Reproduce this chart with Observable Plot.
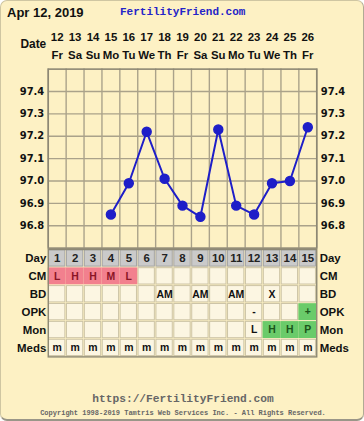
<!DOCTYPE html>
<html><head><meta charset="utf-8">
<script src="https://cdn.jsdelivr.net/npm/d3@7"></script>
<script src="https://cdn.jsdelivr.net/npm/@observablehq/plot@0.6"></script>
<style>
html,body{margin:0;padding:0;background:#fff;}
#wrap{position:relative;width:362px;height:418px;background:#fdf1c4;border:1px solid #cfc6a2;border-bottom:2px solid #9a9688;border-right:1px solid #b0aa94;border-radius:7px;overflow:hidden;font-family:"Liberation Sans",Arial,sans-serif;}
.abs{position:absolute;}
#date{left:6px;top:4px;font:bold 13px "Liberation Sans",Arial,sans-serif;color:#111;}
#site{left:119px;top:5px;font:bold 11px "Liberation Mono","DejaVu Sans Mono",monospace;color:#2424c8;}
#url{left:0;width:364px;text-align:center;top:392px;font:bold 11.2px "Liberation Mono","DejaVu Sans Mono",monospace;color:#666;}
#copy{left:0;width:364px;text-align:center;top:408px;font:bold 7px "Liberation Mono","DejaVu Sans Mono",monospace;color:#666;}
svg{overflow:visible;}
</style></head>
<body>
<div id="wrap">
<div id="date" class="abs">Apr 12, 2019</div>
<div id="site" class="abs">FertilityFriend.com</div>
<div id="chart" class="abs" style="left:0;top:0"></div>
<div id="table" class="abs" style="left:0;top:247px"></div>
<div id="url" class="abs">https://FertilityFriend.com</div>
<div id="copy" class="abs">Copyright 1998-2019 Tamtris Web Services Inc. - All Rights Reserved.</div>
</div>
<script>
const days = [1,2,3,4,5,6,7,8,9,10,11,12,13,14,15];
const dates = [12,13,14,15,16,17,18,19,20,21,22,23,24,25,26];
const dows = ["Fr","Sa","Su","Mo","Tu","We","Th","Fr","Sa","Su","Mo","Tu","We","Th","Fr"];
const temps = [null,null,null,96.85,96.99,97.22,97.01,96.89,96.84,97.23,96.89,96.85,96.99,97.00,97.24];
const yTicks = [96.8,96.9,97.0,97.1,97.2,97.3,97.4];
const rows = ["Day","CM","BD","OPK","Mon","Meds"];
const cm   = ["L","H","H","M","L","","","","","","","","","",""];
const bd   = ["","","","","","","AM","","AM","","AM","","X","",""];
const opk  = ["","","","","","","","","","","","-","","","+"];
const mon  = ["","","","","","","","","","","","L","H","H","P"];
const meds = ["m","m","m","m","m","m","m","m","m","m","m","m","m","m","m"];

const gridC = "#aaa28a", frameC = "#8d8874", blue = "#1e1ec8";
const pts = days.map((d,i)=>({day:d, t:temps[i]})).filter(p=>p.t!=null);
const header = days.map((d,i)=>({day:d, date:dates[i], dow:dows[i]}));
const boundaries = d3.range(0.5, 15.6, 1);

const chart = Plot.plot({
  width:364, height:249, marginLeft:47, marginRight:47, marginTop:68, marginBottom:1,
  style:{background:"transparent", overflow:"visible"},
  x:{domain:[0.5,15.5], axis:null, label:null},
  y:{domain:[96.7,97.5], axis:null, label:null},
  marks:[
    Plot.ruleX(boundaries, {stroke:gridC, strokeWidth:1.4}),
    Plot.gridY(yTicks, {stroke:gridC, strokeOpacity:1, strokeWidth:1.4}),
    Plot.frame({stroke:frameC, strokeWidth:1.6}),
    Plot.axisY(yTicks, {anchor:"left", label:null, tickSize:0, tickPadding:4, tickFormat:d=>d.toFixed(1), fontFamily:"DejaVu Sans", fontWeight:"bold", fontSize:10, fill:"#111"}),
    Plot.axisY(yTicks, {anchor:"right", label:null, tickSize:0, tickPadding:4, tickFormat:d=>d.toFixed(1), fontFamily:"DejaVu Sans", fontWeight:"bold", fontSize:10, fill:"#111"}),
    Plot.text(header, {x:"day", text:d=>String(d.date), frameAnchor:"top", dy:-32, lineAnchor:"middle", fontFamily:"Liberation Sans", fontWeight:"bold", fontSize:11.5, fill:"#111"}),
    Plot.text(header, {x:"day", text:"dow", frameAnchor:"top", dy:-14, lineAnchor:"middle", fontFamily:"Liberation Sans", fontWeight:"bold", fontSize:11.5, fill:"#111"}),
    Plot.text(["Date"], {frameAnchor:"top-left", dx:-2, dy:-25, textAnchor:"end", lineAnchor:"middle", fontFamily:"Liberation Sans", fontWeight:"bold", fontSize:12, fill:"#111"}),
    Plot.line(pts, {x:"day", y:"t", stroke:blue, strokeWidth:2}),
    Plot.dot(pts, {x:"day", y:"t", r:4.5, fill:blue, stroke:blue})
  ]
});
document.getElementById("chart").appendChild(chart);

const rowVals = {Day:days.map(String), CM:cm, BD:bd, OPK:opk, Mon:mon, Meds:meds};
const cells = [];
rows.forEach(r=>days.forEach((d,i)=>{
  const v = rowVals[r][i];
  let fill = "#fcf6e2", stroke = "#cdc4a6", color = "#111", hi = false;
  if (r==="Day") { fill = "#cacaca"; stroke = "#a4a4a4"; color = "#222"; }
  else if (r==="CM" && v) { fill = "#f2808e"; color = "#8a1526"; hi = true; }
  else if ((r==="OPK" && v==="+") || (r==="Mon" && (v==="H"||v==="P"))) { fill = "#6acb6a"; color = "#1b551b"; hi = true; }
  cells.push({row:r, day:d, v, fill, stroke, color, hi});
}));

const table = Plot.plot({
  width:364, height:111, marginLeft:47, marginRight:47, marginTop:1, marginBottom:2,
  style:{background:"transparent", overflow:"visible"},
  x:{type:"band", domain:days, padding:0, axis:null, label:null},
  y:{type:"band", domain:rows, padding:0, axis:null, label:null},
  marks:[
    Plot.cell(cells.filter(c=>!c.hi), {x:"day", y:"row", fill:"fill", stroke:"stroke", strokeWidth:1, inset:0.8}),
    Plot.cell(cells.filter(c=>c.hi), {x:"day", y:"row", fill:"fill", insetTop:0.5, insetBottom:0.5}),
    Plot.frame({stroke:frameC, strokeWidth:1.4}),
    Plot.text(cells, {x:"day", y:"row", text:"v", fill:"color", fontFamily:"Liberation Sans", fontWeight:"bold", fontSize:d=>d.row==="Day"?11.5:10.5}),
    Plot.axisY({anchor:"left", label:null, tickSize:0, tickPadding:2, fontFamily:"Liberation Sans", fontWeight:"bold", fontSize:11.5, fill:"#111"}),
    Plot.axisY({anchor:"right", label:null, tickSize:0, tickPadding:3, fontFamily:"Liberation Sans", fontWeight:"bold", fontSize:11.5, fill:"#111"})
  ]
});
document.getElementById("table").appendChild(table);
</script>
</body></html>
